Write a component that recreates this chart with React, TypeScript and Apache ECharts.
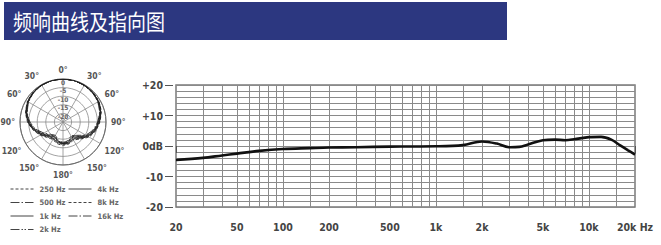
import React, { useEffect, useRef } from 'react';
import * as echarts from 'echarts';

const TITLE = '频响曲线及指向图';

// Frequency response
const respFreqs = [20, 30, 40, 50, 70, 100, 150, 200, 300, 500, 700, 1000, 1500, 2000, 2500, 3000, 3500, 4000, 5000, 6000, 7000, 8000, 10000, 12000, 14000, 16000, 18000, 20000];
const respDb = [-4.6, -3.9, -3.1, -2.5, -1.6, -1.0, -0.7, -0.5, -0.4, -0.2, -0.15, -0.1, 0.3, 1.5, 0.8, -0.4, -0.3, 0.5, 1.9, 2.1, 1.9, 2.2, 2.9, 3.0, 2.1, 0.2, -1.4, -2.8];

const gridFreqs = [30, 40, 50, 60, 70, 80, 90, 100, 150, 200, 300, 400, 500, 600, 700, 800, 900, 1000, 1500, 2000, 3000, 4000, 5000, 6000, 7000, 8000, 9000, 10000, 15000];
const xTicks = [20, 50, 100, 200, 500, 1000, 2000, 5000, 10000, 20000];
const xTickLabels = ['20', '50', '100', '200', '500', '1k', '2k', '5k', '10k', '20k Hz'];
const yTicks = [-20, -10, 0, 10, 20];
const yTickLabels = ['-20', '-10', '0dB', '+10', '+20'];

// Polar pattern (dB vs angle, clockwise from front)
const polarAngles = [0, 15, 30, 45, 60, 75, 90, 105, 120, 135, 150, 165, 180, 195, 210, 225, 240, 255, 270, 285, 300, 315, 330, 345, 360];
const polar250 = [0, 0, -0.2, -0.5, -1.0, -2.0, -3.6, -5.3, -7.6, -11.0, -12.8, -11.8, -11.5, -12.0, -13.2, -12.2, -9.8, -7.0, -4.4, -2.5, -1.2, -0.5, -0.2, 0, 0];
const polar500 = [0, 0, -0.3, -0.6, -1.1, -2.2, -3.8, -5.6, -8.0, -11.6, -13.2, -12.2, -12.0, -12.5, -13.6, -12.6, -10.2, -7.3, -4.6, -2.7, -1.3, -0.6, -0.2, 0, 0];
const polar1k = [0, 0, -0.3, -0.6, -1.2, -2.3, -4.0, -5.8, -8.3, -12.0, -13.5, -12.5, -12.3, -12.8, -14.0, -13.0, -10.5, -7.5, -4.8, -2.8, -1.4, -0.6, -0.2, 0, 0];
const polar2k = [0, 0, -0.3, -0.7, -1.3, -2.5, -4.2, -6.1, -8.7, -12.5, -14.0, -12.8, -12.5, -13.2, -14.5, -13.4, -10.9, -7.8, -5.0, -3.0, -1.5, -0.7, -0.3, 0, 0];
const polar4k = [0, -0.1, -0.4, -0.8, -1.4, -2.6, -4.4, -6.3, -9.0, -13.0, -14.5, -13.0, -12.6, -13.5, -15.0, -13.8, -11.2, -8.0, -5.2, -3.1, -1.6, -0.8, -0.3, -0.1, 0];
const polar8k = [0, -0.1, -0.4, -0.8, -1.5, -2.8, -4.6, -6.6, -9.4, -13.4, -15.0, -13.4, -12.8, -13.8, -15.4, -14.2, -11.6, -8.3, -5.4, -3.3, -1.7, -0.8, -0.3, -0.1, 0];
const polar16k = [0, -0.1, -0.5, -0.9, -1.7, -3.0, -4.9, -7.0, -9.9, -14.0, -15.6, -13.8, -13.2, -14.2, -16.0, -14.8, -12.2, -8.8, -5.8, -3.5, -1.9, -0.9, -0.4, -0.1, 0];

const polarNames = ['250 Hz', '500 Hz', '1k Hz', '2k Hz', '4k Hz', '8k Hz', '16k Hz'];
const polarSets = [polar250, polar500, polar1k, polar2k, polar4k, polar8k, polar16k];
const polarDash: any[] = [[3, 2], [9, 2, 1.5, 2], 'solid', [9, 2, 1.5, 1.5, 1.5, 2], 'solid', [3, 2], [9, 2, 1.5, 2]];

const radTicks = [-25, -20, -15, -10, -5, 0];
const radTickLabels = ['', '-20', '-15', '-10', '-5', '0'];

const FONT = '"Liberation Sans Narrow", "DejaVu Sans Condensed", sans-serif';
const GRID_COLOR = '#8a8a8a';

export default function App() {
  const ref = useRef<HTMLDivElement>(null);
  useEffect(() => {
    if (!ref.current) return;
    const chart = echarts.init(ref.current, undefined, { renderer: 'svg' });

    const polarSeries = polarNames.map((name, i) => ({
      name,
      type: 'line',
      coordinateSystem: 'polar',
      polarIndex: 0,
      symbol: 'none',
      smooth: 0.2,
      data: polarAngles.map((a, k) => [polarSets[i][k], a]),
      lineStyle: { color: '#222', width: 0.9, type: polarDash[i] },
      itemStyle: { color: '#222' },
      z: 4,
    }));

    const legendCommon = {
      orient: 'vertical', top: 185,
      itemWidth: 23, itemHeight: 8, itemGap: 5.5, padding: 0,
      itemStyle: { color: 'rgba(0,0,0,0)', borderWidth: 0, opacity: 0 },
      lineStyle: { color: '#444', width: 1 },
      textStyle: { fontSize: 7.5, fontWeight: 'bold', color: '#666', fontFamily: FONT, padding: [0, 0, 0, 1] },
      selectedMode: false,
    };

    const option: any = {
      animation: false,
      textStyle: { fontFamily: FONT },
      graphic: [
        { type: 'rect', shape: { x: 4, y: 2, width: 503, height: 38 }, style: { fill: '#2c3780' }, z: 0 },
        {
          type: 'text', x: 13, y: 21, scaleY: 1.12,
          style: { text: TITLE, fill: '#ffffff', font: '19px "Noto Sans CJK SC"', verticalAlign: 'middle' },
          z: 1,
        },
      ],
      grid: {
        left: 176, right: 26, top: 85, bottom: 38,
        show: true, borderColor: '#7a7a7a', borderWidth: 1.5, backgroundColor: 'transparent',
      },
      xAxis: {
        type: 'log', logBase: 10, min: 20, max: 20000,
        offset: 4,
        axisLine: { show: false },
        axisTick: { show: true, length: 7, customValues: xTicks, lineStyle: { color: '#555', width: 1 } },
        axisLabel: {
          customValues: xTicks, margin: 10, fontSize: 10.5, fontWeight: 'bold', color: '#444', fontFamily: FONT,
          formatter: (v: number) => { const i = xTicks.findIndex((t) => Math.abs(t - v) / t < 1e-6); return i >= 0 ? xTickLabels[i] : ''; },
        },
        splitLine: { show: false },
      },
      yAxis: {
        type: 'value', min: -20, max: 20, interval: 10,
        offset: 3,
        axisLine: { show: false },
        axisTick: { show: true, length: 8, lineStyle: { color: '#555', width: 1 } },
        minorTick: { show: false, splitNumber: 5 },
        axisLabel: {
          margin: 10, fontSize: 10.5, fontWeight: 'bold', color: '#444', fontFamily: FONT,
          formatter: (v: number) => { const i = yTicks.indexOf(v); return i >= 0 ? yTickLabels[i] : ''; },
        },
        splitLine: { show: true, lineStyle: { color: GRID_COLOR, width: 1 } },
        minorSplitLine: { show: true, lineStyle: { color: GRID_COLOR, width: 1 } },
      },
      polar: { center: [63, 122], radius: 43 },
      angleAxis: {
        type: 'value', min: 0, max: 360, interval: 30, startAngle: 90, clockwise: true,
        axisLine: { show: true, lineStyle: { color: '#666', width: 1 } },
        axisTick: { show: false },
        axisLabel: {
          margin: 5, fontSize: 8.5, fontWeight: 'bold', color: '#555', fontFamily: FONT,
          formatter: (v: number) => (v >= 360 ? '' : (v > 180 ? 360 - v : v) + '°'),
        },
        splitLine: { show: true, lineStyle: { color: '#8a8a8a', width: 0.8 } },
      },
      radiusAxis: {
        type: 'value', min: -25, max: 0, interval: 5,
        axisLine: { show: false },
        axisTick: { show: false },
        axisLabel: {
          show: true, margin: 0, align: 'center', verticalAlign: 'top', fontSize: 6.5, fontWeight: 'bold', color: '#666', fontFamily: FONT,
          formatter: (v: number) => { const i = radTicks.indexOf(v); return i >= 0 ? radTickLabels[i] : ''; },
        },
        splitLine: { show: true, lineStyle: { color: '#8a8a8a', width: 0.8 } },
      },
      legend: [
        { ...legendCommon, data: polarNames.slice(0, 4), left: 10 },
        { ...legendCommon, data: polarNames.slice(4), left: 68 },
      ],
      series: [
        {
          name: 'grid', type: 'line', xAxisIndex: 0, yAxisIndex: 0, data: [], symbol: 'none', silent: true,
          markLine: {
            silent: true, symbol: ['none', 'none'], z: 1, label: { show: false },
            lineStyle: { color: GRID_COLOR, type: 'solid', width: 1 },
            emphasis: { disabled: true },
            data: gridFreqs.map((f) => ({ xAxis: f })),
          },
        },
        {
          name: 'response', type: 'line', xAxisIndex: 0, yAxisIndex: 0, symbol: 'none', smooth: 0.35, z: 5,
          data: respFreqs.map((f, i) => [f, respDb[i]]),
          lineStyle: { color: '#111', width: 2.6 },
        },
        ...polarSeries,
      ],
    };
    chart.setOption(option);
    return () => chart.dispose();
  }, []);
  return (
    <div style={{ position: 'absolute', left: 0, top: 0, width: 661, height: 245, background: '#fff' }}>
      <div ref={ref} style={{ width: 661, height: 245 }} />
    </div>
  );
}
